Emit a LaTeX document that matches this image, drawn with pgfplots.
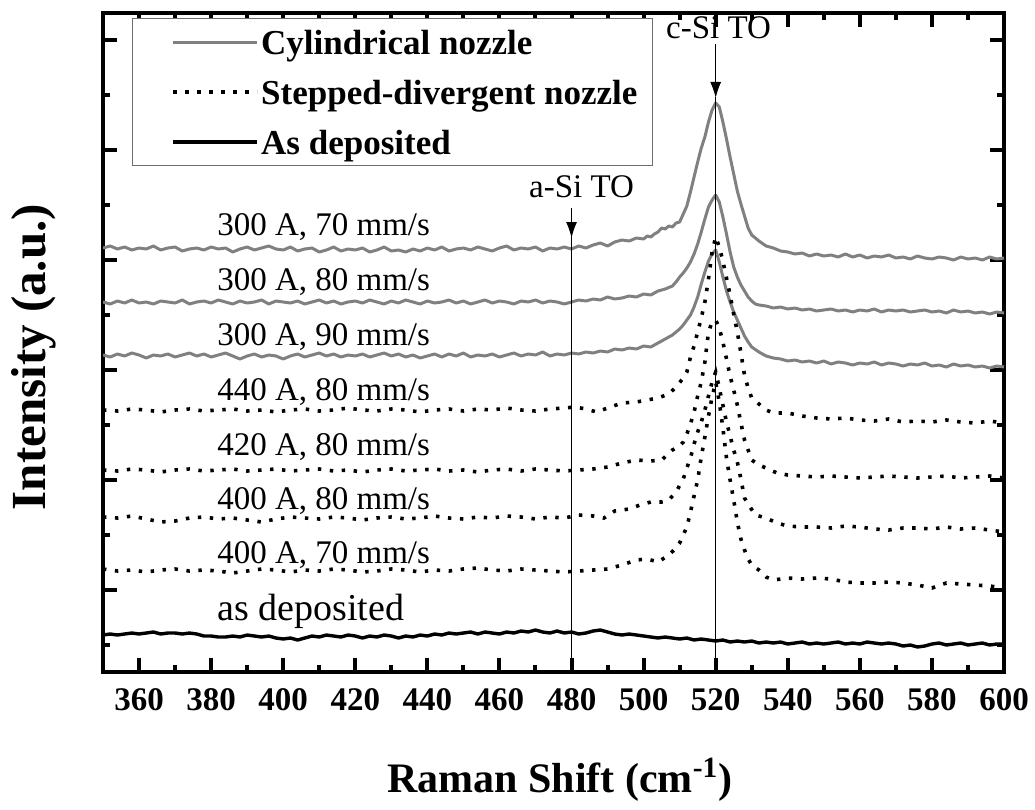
\documentclass[border=0pt]{standalone}
\usepackage{fontspec}
\setmainfont{Liberation Serif}
\usepackage{pgfplots}
\pgfplotsset{compat=1.18}
\usetikzlibrary{arrows.meta}
\tikzset{
  graysty/.style={color={rgb,255:red,128;green,128;blue,128}, line width=1.5pt, line join=round},
  dotsty/.style={black, line width=1.8pt, dash pattern=on 1.7pt off 4.3pt},
  blksty/.style={black, line width=1.7pt, line join=round},
}
\begin{document}
\begin{tikzpicture}
\begin{axis}[name=ax, scale only axis, width=450.5pt, height=329.5pt,
  clip mode=individual,
  xmin=350, xmax=600, ymin=0, ymax=659,
  xtick={360,380,...,600}, minor x tick num=1,
  ytick={82,192,302,412,522,632}, minor ytick={27,137,247,357,467,577}, yticklabels={},
  major tick length=7pt, minor tick length=3.5pt,
  tick style={black, line width=2pt},
  axis line style={line width=2pt},
  tick align=inside,
  /pgf/number format/assume math mode=true,
  xticklabel style={font=\bfseries\fontsize{16.5}{18}\selectfont, yshift=-4.5pt},
  xlabel={Raman Shift (cm\textsuperscript{-1})},
  xlabel style={font=\bfseries\fontsize{21}{24}\selectfont, at={(axis description cs:0.507,-0.163)}, anchor=center},
  ylabel={Intensity (a.u.)},
  ylabel style={font=\bfseries\fontsize{24.5}{26}\selectfont, at={(axis description cs:-0.0766,0.478)}, anchor=center},
  legend cell align=left,
  legend image code/.code={\path (-13pt,0pt); \draw[#1] (0pt,0pt) -- (42pt,0pt);},
  legend style={at={(axis description cs:0.0322,0.9924)}, anchor=north west,
    draw={rgb,255:red,110;green,110;blue,110}, line width=0.6pt,
    font=\bfseries\fontsize{17.5}{20}\selectfont,
    inner xsep=6.5pt, inner ysep=3pt, row sep=7.5pt,
    nodes={inner sep=1pt, text height=14pt, text depth=1.5pt}},
]
\addlegendimage{graysty}
\addlegendentry{Cylindrical nozzle}
\addlegendimage{dotsty}
\addlegendentry{Stepped-divergent nozzle}
\addlegendimage{blksty}
\addlegendentry{As deposited}

% 300 A, 70 mm/s
\addplot[graysty, forget plot] coordinates {
(350,424)(352,426)(354,423)(356,425)(358,422)(360,424)(362,423)(364,426)(366,422)(368,424)
(370,425)(372,421)(374,423)(376,424)(378,422)(380,425)(382,423)(384,424)(386,420)(388,423)
(390,425)(392,422)(394,424)(396,426)(398,423)(400,422)(402,425)(404,421)(406,423)(408,424)
(410,420)(412,422)(414,425)(416,421)(418,423)(420,422)(422,424)(424,420)(426,422)(428,425)
(430,421)(432,422)(434,420)(436,423)(438,421)(440,424)(442,422)(444,425)(446,421)(448,423)
(450,424)(452,422)(454,425)(456,423)(458,421)(460,424)(462,426)(464,422)(466,424)(468,423)
(470,425)(472,421)(474,424)(476,423)(478,425)(480,423)(482,426)(484,424)(486,427)(488,429)
(490,426)(492,430)(494,432)(496,431)(498,434)(500,433)(501,436)(502,435)(503,438)(504,440)
(505,444)(506,443)(507,446)(508,445)(509,449)(510,450)(511,458)(512,466)(513,480)(514,495)
(515,510)(516,524)(517,535)(518,550)(519,562)(520,569)(521,565)(522,550)(523,533)(524,515)
(525,498)(526,481)(527,468)(528,456)(529,444)(530,437)(531,434)(532,431)(534,426)(536,424)
(538,421)(540,420)(542,418)(544,419)(546,416)(548,418)(550,416)(552,417)(554,415)(556,418)
(558,415)(560,417)(562,414)(564,416)(566,415)(568,417)(570,414)(572,415)(574,413)(576,416)
(578,414)(580,413)(582,415)(584,414)(586,412)(588,415)(590,413)(592,414)(594,412)(596,415)
(598,413)(600,414)};

% 300 A, 80 mm/s
\addplot[graysty, forget plot] coordinates {
(350,370)(352,368)(354,371)(356,369)(358,372)(360,369)(362,370)(364,368)(366,371)(368,370)
(370,369)(372,372)(374,368)(376,370)(378,371)(380,369)(382,372)(384,370)(386,368)(388,371)
(390,369)(392,370)(394,372)(396,368)(398,371)(400,370)(402,369)(404,371)(406,368)(408,370)
(410,372)(412,369)(414,371)(416,368)(418,370)(420,371)(422,369)(424,372)(426,370)(428,368)
(430,371)(432,369)(434,372)(436,370)(438,368)(440,371)(442,369)(444,370)(446,372)(448,369)
(450,371)(452,368)(454,370)(456,372)(458,369)(460,371)(462,370)(464,368)(466,371)(468,370)
(470,372)(472,369)(474,371)(476,370)(478,368)(480,370)(482,372)(484,371)(486,373)(488,372)
(490,375)(492,373)(494,374)(496,376)(498,375)(500,378)(502,377)(504,381)(506,383)(508,386)
(509,390)(510,395)(511,399)(512,404)(513,410)(514,418)(515,428)(516,440)(517,453)(518,465)
(519,472)(520,477)(521,470)(522,455)(523,438)(524,420)(525,405)(526,395)(527,387)(528,381)
(529,375)(530,371)(531,368)(532,367)(534,366)(536,364)(538,365)(540,363)(542,364)(544,362)
(546,363)(548,361)(550,362)(552,363)(554,361)(556,362)(558,360)(560,362)(562,361)(564,363)
(566,360)(568,362)(570,361)(572,362)(574,360)(576,361)(578,362)(580,360)(582,361)(584,359)
(586,362)(588,360)(590,361)(592,359)(594,360)(596,358)(598,360)(600,359)};

% 300 A, 90 mm/s
\addplot[graysty, forget plot] coordinates {
(350,317)(352,315)(354,318)(356,316)(358,319)(360,317)(362,314)(364,317)(366,316)(368,318)
(370,315)(372,317)(374,319)(376,316)(378,318)(380,315)(382,317)(384,319)(386,316)(388,313)
(390,316)(392,318)(394,315)(396,317)(398,316)(400,313)(402,316)(404,318)(406,315)(408,317)
(410,319)(412,316)(414,318)(416,315)(418,317)(420,316)(422,318)(424,315)(426,317)(428,319)
(430,316)(432,318)(434,315)(436,317)(438,314)(440,316)(442,318)(444,315)(446,318)(448,316)
(450,319)(452,315)(454,317)(456,316)(458,318)(460,315)(462,317)(464,319)(466,316)(468,318)
(470,317)(472,320)(474,316)(476,318)(478,317)(480,319)(482,318)(484,320)(486,319)(488,321)
(490,320)(492,323)(494,322)(496,324)(498,323)(500,326)(502,325)(504,329)(506,333)(508,337)
(509,340)(510,343)(511,347)(512,352)(513,357)(514,365)(515,375)(516,388)(517,400)(518,411)
(519,418)(520,422)(521,410)(522,395)(523,381)(524,370)(525,360)(526,352)(527,344)(528,336)
(529,330)(530,325)(532,320)(534,316)(536,314)(538,313)(540,311)(542,312)(544,310)(546,311)
(548,309)(550,311)(552,308)(554,310)(556,309)(558,307)(560,309)(562,308)(564,310)(566,307)
(568,309)(570,308)(572,306)(574,308)(576,307)(578,309)(580,306)(582,307)(584,305)(586,308)
(588,306)(590,307)(592,305)(594,306)(596,304)(598,306)(600,305)};

% 440 A, 80 mm/s
\addplot[dotsty, forget plot] coordinates {
(350,262)(354,261)(358,263)(362,262)(366,260)(370,262)(374,263)(378,261)(382,262)(386,263)
(390,261)(394,262)(398,260)(402,262)(406,263)(410,261)(414,262)(418,264)(422,262)(426,261)
(430,263)(434,262)(438,260)(442,262)(446,263)(450,261)(454,263)(458,262)(462,264)(466,262)
(470,261)(474,263)(478,264)(481,265)(484,263)(487,260)(490,264)(494,269)(498,270)(501,272)
(504,274)(507,278)(509,285)(511,294)(512,300)(513,315)(514,326)(515,340)(516,354)(517,370)
(518,393)(519,420)(520,435)(521,425)(522,411)(523,394)(524,377)(525,358)(526,340)(527,319)
(528,297)(529,284)(530,274)(532,268)(534,262)(536,259)(540,259)(544,256)(548,254)(552,253)
(556,254)(560,252)(564,251)(568,253)(572,250)(576,251)(580,250)(584,252)(588,250)(592,249)
(596,251)(600,249)};

% 420 A, 80 mm/s
\addplot[dotsty, forget plot] coordinates {
(350,202)(354,201)(358,203)(362,202)(366,200)(370,202)(374,203)(378,201)(382,202)(386,203)
(390,201)(394,202)(398,203)(402,201)(406,202)(410,203)(414,201)(418,202)(422,200)(426,202)
(430,203)(434,201)(438,202)(442,203)(446,201)(450,202)(454,200)(458,202)(462,203)(466,201)
(470,203)(474,202)(478,201)(482,202)(486,203)(490,205)(494,209)(498,212)(502,211)(505,212)
(508,222)(510,226)(511,230)(512,238)(513,248)(514,260)(515,276)(516,290)(517,310)(518,340)
(519,350)(520,352)(521,344)(522,330)(523,313)(524,296)(525,282)(526,267)(527,249)(528,232)
(529,222)(530,212)(532,207)(534,204)(537,199)(540,197)(544,196)(548,195)(552,196)(556,195)
(560,194)(564,195)(568,196)(572,195)(576,194)(580,195)(584,196)(588,194)(592,195)(596,196)
(600,194)};

% 400 A, 80 mm/s
\addplot[dotsty, forget plot] coordinates {
(350,155)(354,154)(358,156)(362,153)(366,150)(370,151)(374,154)(378,155)(382,153)(386,154)
(390,152)(394,150)(398,153)(402,155)(406,154)(410,153)(414,155)(418,154)(422,152)(426,154)
(430,155)(434,153)(438,154)(442,156)(446,154)(450,153)(454,155)(458,154)(462,156)(466,155)
(470,153)(474,155)(478,154)(482,157)(486,156)(489,154)(492,161)(496,163)(499,167)(502,170)
(505,170)(507,172)(509,180)(511,193)(512,204)(513,214)(514,228)(515,240)(516,250)(517,262)
(518,276)(519,290)(520,300)(521,284)(522,267)(523,250)(524,236)(525,222)(526,210)(527,193)
(528,174)(529,168)(531,157)(534,154)(537,149)(540,146)(544,145)(548,145)(552,144)(556,146)
(560,145)(564,143)(568,142)(572,144)(576,144)(580,143)(584,145)(588,143)(592,144)(596,142)
(600,140)};

% 400 A, 70 mm/s
\addplot[dotsty, forget plot] coordinates {
(350,103)(354,101)(358,102)(362,100)(366,102)(370,103)(374,101)(378,102)(382,101)(386,99)
(390,101)(394,103)(398,102)(402,100)(406,102)(410,101)(414,103)(418,102)(422,100)(426,101)
(430,103)(434,102)(438,100)(442,102)(446,101)(450,103)(454,104)(458,102)(462,101)(466,103)
(470,102)(474,101)(478,100)(482,101)(486,102)(490,103)(494,107)(498,112)(501,113)(504,110)
(507,117)(509,124)(510,129)(511,137)(512,145)(513,160)(514,176)(515,192)(516,215)(517,235)
(518,256)(519,275)(520,290)(521,270)(522,244)(523,214)(524,192)(525,172)(526,150)(527,133)
(528,122)(529,113)(530,107)(532,102)(534,95)(536,92)(540,94)(544,93)(548,94)(552,93)
(556,90)(560,89)(564,89)(568,90)(572,89)(576,87)(580,84)(584,89)(588,88)(592,87)
(596,86)(600,84)};

% as deposited
\addplot[blksty, forget plot] coordinates {
(350,37)(352,38)(354,37)(356,38)(358,39)(360,38)(362,39)(364,40)(366,38)(368,39)
(370,39)(372,38)(374,39)(376,38)(378,36)(380,36)(382,35)(384,35)(386,36)(388,35)
(390,37)(392,36)(394,35)(396,36)(398,34)(400,33)(402,34)(404,32)(406,34)(408,36)
(410,35)(412,37)(414,36)(416,35)(418,37)(420,36)(422,34)(424,36)(426,35)(428,37)
(430,36)(432,34)(434,36)(436,35)(438,37)(440,36)(442,38)(444,37)(446,39)(448,38)
(450,39)(452,40)(454,38)(456,40)(458,39)(460,38)(462,40)(464,39)(466,41)(468,40)
(470,42)(472,40)(474,39)(476,41)(478,39)(480,40)(482,38)(484,39)(486,41)(488,42)
(490,40)(492,38)(494,37)(496,38)(498,37)(500,36)(502,35)(504,34)(506,35)(508,34)
(510,33)(512,34)(514,32)(516,33)(518,32)(520,31)(522,32)(524,30)(526,31)(528,30)
(530,31)(532,29)(534,30)(536,29)(538,30)(540,28)(542,29)(544,30)(546,28)(548,29)
(550,28)(552,29)(554,30)(556,28)(558,29)(560,28)(562,30)(564,29)(566,28)(568,29)
(570,28)(572,26)(574,27)(576,25)(578,26)(580,28)(582,29)(584,27)(586,28)(588,29)
(590,27)(592,28)(594,29)(596,27)(598,28)(600,28)};

% marker lines
\addplot[black, line width=0.6pt, forget plot] coordinates {(480,435) (480,0)};
\addplot[black, line width=0.6pt, forget plot] coordinates {(520,575) (520,0)};
\draw[black, line width=0.6pt, -{Latex[length=8pt,width=5.5pt]}] (axis cs:480,464) -- (axis cs:480,434);
\draw[black, line width=0.6pt, -{Latex[length=8pt,width=5.5pt]}] (axis cs:520,628) -- (axis cs:520,574);

\node[font=\fontsize{16.5}{18}\selectfont, anchor=center] at (axis cs:482.8,485) {a-Si TO};
\node[font=\fontsize{16.5}{18}\selectfont, anchor=center] at (axis cs:520.8,644) {c-Si TO};

\begin{scope}[every node/.style={anchor=base west, inner sep=0pt, font=\fontsize{16.5}{18}\selectfont}]
\node at (axis cs:381.6,437) {300 A, 70 mm/s};
\node at (axis cs:381.6,382) {300 A, 80 mm/s};
\node at (axis cs:381.6,327) {300 A, 90 mm/s};
\node at (axis cs:381.6,272) {440 A, 80 mm/s};
\node at (axis cs:381.6,217) {420 A, 80 mm/s};
\node at (axis cs:381.6,163) {400 A, 80 mm/s};
\node at (axis cs:381.6,109) {400 A, 70 mm/s};
\node[font=\fontsize{19}{21}\selectfont] at (axis cs:381.6,52) {as deposited};
\end{scope}
\end{axis}
\pgfresetboundingbox
\path[use as bounding box] ([shift={(-51.5pt,-68.5pt)}]ax.south west) rectangle ([shift={(15.5pt,6.5pt)}]ax.north east);
\end{tikzpicture}
\end{document}
